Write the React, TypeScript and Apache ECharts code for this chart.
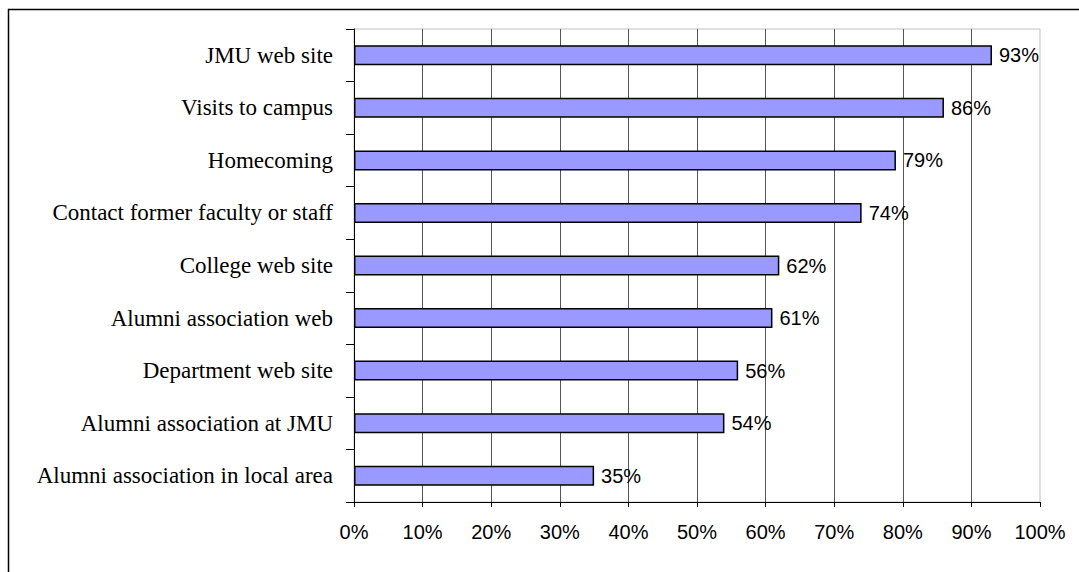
import React, { useEffect, useRef } from "react";
import * as echarts from "echarts";

const categories = [
  "JMU web site",
  "Visits to campus",
  "Homecoming",
  "Contact former faculty or staff",
  "College web site",
  "Alumni association web",
  "Department web site",
  "Alumni association at JMU",
  "Alumni association in local area",
];
const values = [93, 86, 79, 74, 62, 61, 56, 54, 35];

export default function App() {
  const ref = useRef<HTMLDivElement>(null);
  useEffect(() => {
    const chart = echarts.init(ref.current!, null, { renderer: "svg" });
    chart.setOption({
      animation: false,
      backgroundColor: "#fff",
      graphic: [
        {
          type: "rect",
          shape: { x: 8.5, y: 9.5, width: 1200, height: 700 },
          style: { fill: "none", stroke: "#000", lineWidth: 1.5 },
          silent: true,
          z: -1,
        },
      ],
      grid: {
        left: 354,
        right: 39,
        top: 29,
        bottom: 70,
        show: true,
        borderColor: "#c0c0c0",
        borderWidth: 1,
        backgroundColor: "transparent",
      },
      xAxis: {
        type: "value",
        min: 0,
        max: 100,
        interval: 10,
        axisLine: { show: true, lineStyle: { color: "#000", width: 1 } },
        axisTick: { show: true, length: 5, lineStyle: { color: "#000" } },
        axisLabel: {
          formatter: "{value}%",
          fontFamily: "Liberation Sans",
          fontSize: 20,
          color: "#000",
          margin: 20,
        },
        splitLine: {
          show: true,
          showMaxLine: false,
          lineStyle: { color: "#555", width: 1 },
        },
      },
      yAxis: {
        type: "category",
        data: categories,
        inverse: true,
        axisLine: { show: true, lineStyle: { color: "#000", width: 1 } },
        axisTick: {
          show: true,
          length: 8,
          alignWithLabel: false,
          lineStyle: { color: "#000" },
        },
        axisLabel: {
          fontFamily: "Liberation Serif",
          fontSize: 23,
          color: "#000",
          margin: 21,
        },
        splitLine: { show: false },
      },
      series: [
        {
          type: "bar",
          data: values,
          barWidth: 20,
          itemStyle: { color: "#9999ff", borderColor: "#000", borderWidth: 1.5 },
          label: {
            show: true,
            position: "right",
            distance: 7,
            formatter: "{c}%",
            fontFamily: "Liberation Sans",
            fontSize: 20,
            color: "#000",
          },
        },
      ],
    });
    return () => chart.dispose();
  }, []);
  return (
    <div
      ref={ref}
      style={{ position: "absolute", left: 0, top: 0, width: 1079, height: 572 }}
    />
  );
}
